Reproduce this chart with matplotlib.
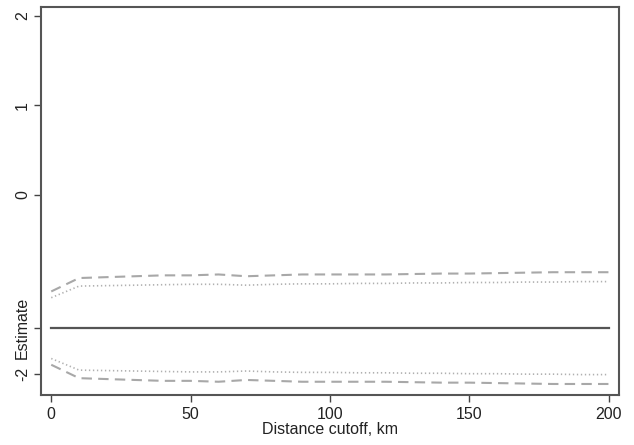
import matplotlib
matplotlib.use("Agg")
import matplotlib.pyplot as plt

plt.rcParams['font.family'] = ['Liberation Sans', 'DejaVu Sans']

# distance cutoffs (km)
cutoff = [0, 10, 20, 30, 40, 50, 60, 70, 80, 90, 100,
          110, 120, 130, 140, 150, 160, 170, 180, 190, 200]

# point estimate
estimate = [-1.49] * len(cutoff)

# 95% bounds (dashed)
hi95 = [-1.08, -0.93, -0.92, -0.91, -0.90, -0.90, -0.89, -0.91, -0.90, -0.89, -0.89,
        -0.89, -0.89, -0.885, -0.88, -0.88, -0.875, -0.87, -0.865, -0.865, -0.865]
lo95 = [-1.90, -2.05, -2.06, -2.07, -2.08, -2.08, -2.09, -2.07, -2.08, -2.09, -2.09,
        -2.09, -2.09, -2.095, -2.10, -2.10, -2.105, -2.11, -2.115, -2.115, -2.115]

# 90% bounds (dotted)
hi90 = [-1.15, -1.02, -1.015, -1.01, -1.005, -1.00, -1.00, -1.01, -1.00, -0.995, -0.995,
        -0.99, -0.99, -0.985, -0.985, -0.98, -0.98, -0.975, -0.975, -0.97, -0.97]
lo90 = [-1.83, -1.96, -1.965, -1.97, -1.975, -1.98, -1.98, -1.97, -1.98, -1.985, -1.985,
        -1.99, -1.99, -1.995, -1.995, -2.00, -2.00, -2.005, -2.005, -2.01, -2.01]

yticks = [2, 1, 0, -1.49, -2]
ytick_labels = ['2', '1', '0', 'Estimate', '-2']
xticks = [0, 50, 100, 150, 200]

fig = plt.figure(figsize=(6.34, 4.45), dpi=100)
ax = fig.add_axes([0.065, 0.112, 0.911, 0.872])

ax.plot(cutoff, estimate, color='#555555', lw=1.6)
ax.plot(cutoff, hi95, color='#a8a8a8', lw=1.5, ls=(0, (5, 3)))
ax.plot(cutoff, lo95, color='#a8a8a8', lw=1.5, ls=(0, (5, 3)))
ax.plot(cutoff, hi90, color='#b0b0b0', lw=1.2, ls=(0, (0.8, 1.6)))
ax.plot(cutoff, lo90, color='#b0b0b0', lw=1.2, ls=(0, (0.8, 1.6)))

ax.set_xlim(-3.6, 203.6)
ax.set_ylim(-2.24, 2.1)
ax.set_xticks(xticks)
ax.set_yticks(yticks)
ax.set_yticklabels(ytick_labels, rotation=90, va='center')
ax.tick_params(colors='#444444', labelcolor='#222222', labelsize=11.5, length=5, width=1)
ax.tick_params(axis='y', pad=3)
for s in ax.spines.values():
    s.set_color('#555555')
    s.set_linewidth(1.5)

ax.set_xlabel('Distance cutoff, km', fontsize=11.5, color='#222222', labelpad=0)

fig.savefig('out.png', dpi=100)
